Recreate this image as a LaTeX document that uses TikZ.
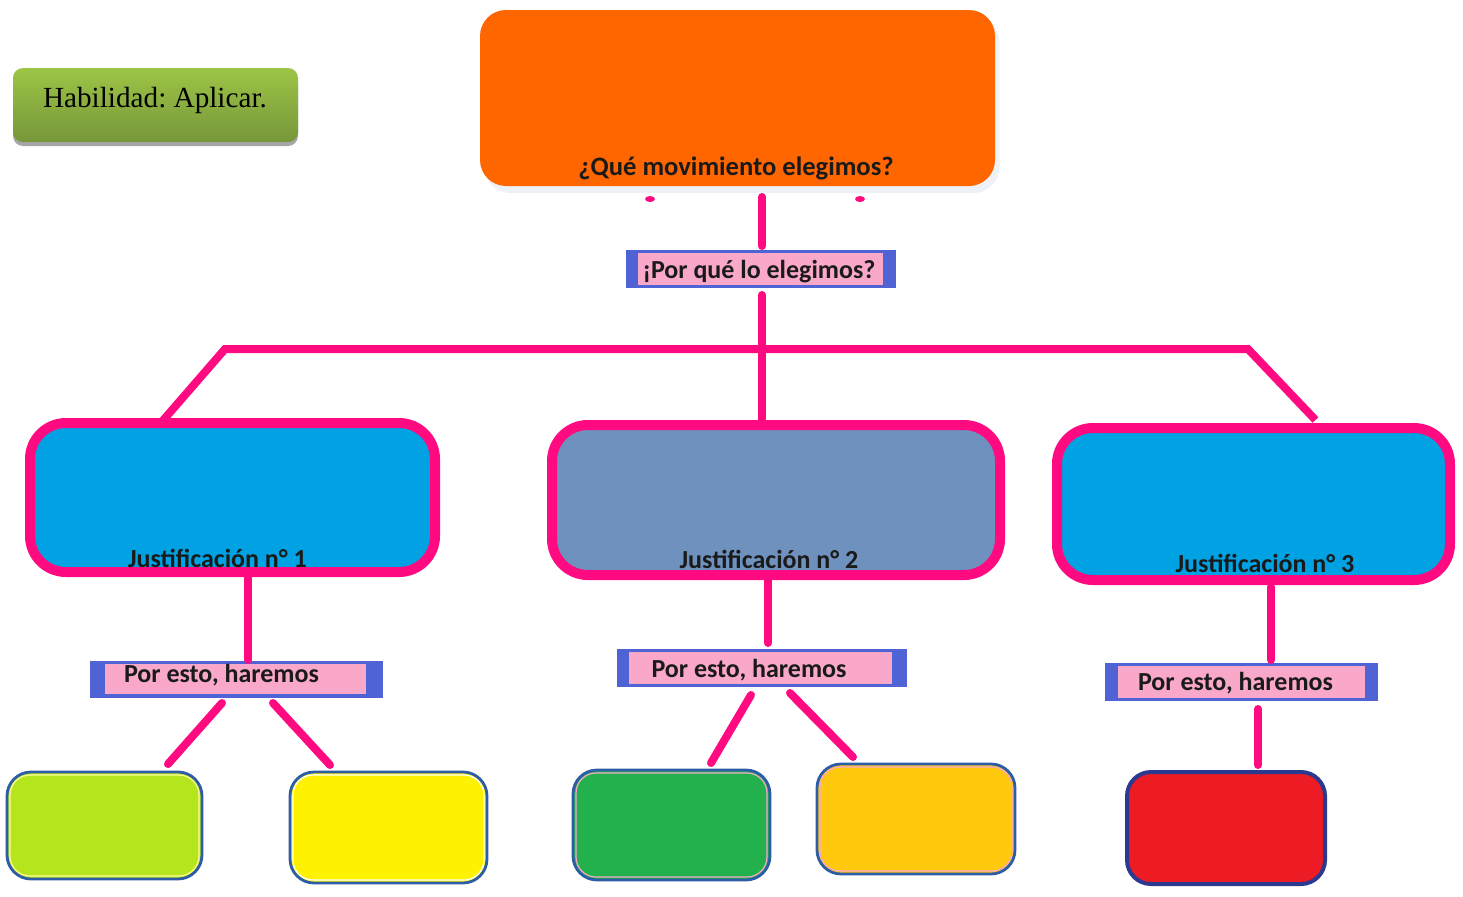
\documentclass[tikz,border=0pt]{standalone}
\usepackage{fontspec}
\setmainfont{Liberation Serif}
\newfontfamily\calfont{Carlito}
\usetikzlibrary{calc}
\frenchspacing
\definecolor{pinkc}{HTML}{FF0A80}
\definecolor{orangec}{HTML}{FF6600}
\definecolor{bandblue}{HTML}{5063D4}
\definecolor{bandpink}{HTML}{F9A8C9}
\definecolor{cyanc}{HTML}{00A2E3}
\definecolor{steelc}{HTML}{6F91BE}
\definecolor{txtc}{HTML}{1A1A1A}
\definecolor{bordblue}{HTML}{2E5DA8}
\definecolor{limec}{HTML}{B5E61D}
\definecolor{yellowc}{HTML}{FFF200}
\definecolor{greenc}{HTML}{22B14C}
\definecolor{ambarc}{HTML}{FFC90E}
\definecolor{redc}{HTML}{ED1C24}
\definecolor{darkblue}{HTML}{2B3A8F}
\definecolor{gtop}{HTML}{9DC546}
\definecolor{gbot}{HTML}{76963A}
\definecolor{shadowc}{HTML}{A6A6A6}
\definecolor{faint}{HTML}{EEF1F5}
\begin{document}
\begin{tikzpicture}[x=0.5pt,y=-0.5pt,
  sz/.style 2 args={minimum width=#1*0.5pt, minimum height=#2*0.5pt, inner sep=0pt, outer sep=0pt},
  link/.style={draw=pinkc, line width=4pt, line cap=round},
  justbox/.style={draw=pinkc, line width=5pt, rounded corners=18pt},
  lbl/.style={font=\calfont\bfseries\fontsize{13}{15}\selectfont, anchor=base, inner sep=0pt, text=txtc},
  outerband/.style={fill=bandblue},
  innerband/.style={fill=bandpink},
  smallbox/.style={draw=bordblue, line width=1.4pt, rounded corners=12pt},
  innerline/.style={line width=0.6pt, rounded corners=10pt}
]
\useasboundingbox[fill=white] (0,0) rectangle (1463,896);

% skill button
\node[sz={285}{74}, fill=shadowc, rounded corners=5pt] (skillsh) at (155.5,109) {};
\node[sz={285}{74}, top color=gtop, bottom color=gbot, rounded corners=5pt] (skill) at (155.5,105) {};
\node[font=\fontsize{14.6}{16}\selectfont, anchor=base, inner sep=0pt] (skilltxt) at (155,107) {Habilidad: Aplicar.};

% top orange box
\node[sz={515}{176}, fill=faint, rounded corners=13pt] (qsh) at (742,105) {};
\node[sz={515}{176}, fill=orangec, rounded corners=13pt] (q) at (737.5,98) {};
\node[lbl, font=\calfont\bfseries\fontsize{13.3}{15}\selectfont] (qtxt) at (736,175) {¿Qué movimiento elegimos?};
\fill[pinkc] (650,199) ellipse (5 and 3);
\fill[pinkc] (860,199) ellipse (5 and 3);

% por que box
\node[sz={270}{38}, outerband] (pq) at (761,269) {};
\node[sz={245}{32}, innerband] (pqin) at (760.5,269) {};
\node[lbl] (pqtxt) at (759,278) {¡Por qué lo elegimos?};

% justification boxes
\node[sz={405}{149}, justbox, fill=cyanc] (J1) at (232.5,497.5) {};
\node[sz={448}{150}, justbox, fill=steelc] (J2) at (776,500) {};
\node[sz={393}{152}, justbox, fill=cyanc] (J3) at (1253.5,504) {};
\node[lbl] (J1txt) at (217.5,567) {Justificación n° 1};
\node[lbl] (J2txt) at (769,568) {Justificación n° 2};
\node[lbl] (J3txt) at (1265,572) {Justificación n° 3};

% por esto boxes
\node[sz={293}{37}, outerband] (pe1) at (236.5,679.5) {};
\node[sz={261}{30}, innerband] (pe1in) at (235.5,679) {};
\node[lbl] (pe1txt) at (221.5,682) {Por esto, haremos};
\node[sz={290}{38}, outerband] (pe2) at (762,668) {};
\node[sz={263}{32}, innerband] (pe2in) at (760.5,668) {};
\node[lbl] (pe2txt) at (749,677) {Por esto, haremos};
\node[sz={273}{38}, outerband] (pe3) at (1241.5,682) {};
\node[sz={247}{32}, innerband] (pe3in) at (1241.5,682) {};
\node[lbl] (pe3txt) at (1235.5,690) {Por esto, haremos};

% bottom boxes
\node[sz={195}{107}, smallbox, fill=limec] (b1) at (104.5,825.5) {};
\draw[innerline, draw=yellow!40] ($(b1.south west)+(3,-3)$) rectangle ($(b1.north east)+(-3,3)$);
\node[sz={197}{111}, smallbox, fill=yellowc] (b2) at (388.5,827.5) {};
\draw[innerline, draw=white] ($(b2.south west)+(3,-3)$) rectangle ($(b2.north east)+(-3,3)$);
\node[sz={197}{110}, smallbox, fill=greenc] (b3) at (671.5,825) {};
\draw[innerline, draw=bandpink] ($(b3.south west)+(3,-3)$) rectangle ($(b3.north east)+(-3,3)$);
\node[sz={198}{110}, smallbox, fill=ambarc] (b4) at (916,819) {};
\draw[innerline, draw=bandpink] ($(b4.south west)+(3,-3)$) rectangle ($(b4.north east)+(-3,3)$);
\node[sz={198}{112}, smallbox, draw=darkblue, line width=2pt, fill=redc] (b5) at (1226,828) {};

% connectors
\coordinate (bl) at (225,349);
\coordinate (br) at (1248,349);
\draw[link] ($(q.south)+(24.5,11)$) -- ($(pq.north)+(1,-4)$);
\draw[link] ($(pq.south)+(1,7)$) -- ($(J2.north)+(-14,-3)$);
\draw[link, line cap=butt] ($(J1.north)+(-70,-2)$) -- (bl) -- (br) -- ($(J3.north)+(62,-8)$);
\draw[link] ($(J1.south)+(15.5,5)$) -- ($(pe1.north)+(11.5,-1)$);
\draw[link] ($(J2.south)+(-8,5)$) -- ($(pe2.north)+(6,-6)$);
\draw[link] ($(J3.south)+(17.5,7)$) -- ($(pe3.north)+(29.5,-3)$);
\draw[link] ($(pe1.south)+(-14.5,5)$) -- ($(b1.north)+(63.5,-8)$);
\draw[link] ($(pe1.south)+(36.5,5)$) -- ($(b2.north)+(-58.5,-7)$);
\draw[link] ($(pe2.south)+(-11,8)$) -- ($(b3.north)+(39.5,-7)$);
\draw[link] ($(pe2.south)+(28,6)$) -- ($(b4.north)+(-63,-7)$);
\draw[link] ($(pe3.south)+(16.5,8)$) -- ($(b5.north)+(32,-7)$);
\end{tikzpicture}
\end{document}
